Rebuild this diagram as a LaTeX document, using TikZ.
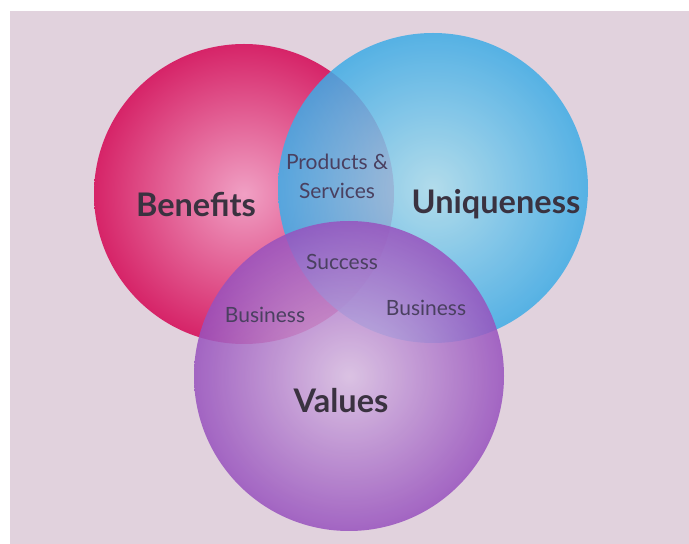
\documentclass[tikz,border=0pt]{standalone}
\usepackage{fontspec}
\setmainfont{Lato}
\usepackage{xcolor}
\usepackage{tikz}
\definecolor{canvas}{RGB}{225,210,221}
\definecolor{benefitedge}{RGB}{214,36,104}
\definecolor{benefitcore}{RGB}{240,160,196}
\definecolor{uniqueedge}{RGB}{62,172,230}
\definecolor{uniquecore}{RGB}{170,222,238}
\definecolor{valueedge}{RGB}{152,82,190}
\definecolor{valuecore}{RGB}{218,192,228}
\definecolor{labeldark}{RGB}{58,50,64}
\definecolor{labelsoft}{RGB}{74,64,96}
\tikzset{
    bubble/.style={circle, minimum size=#1, inner sep=0pt, outer sep=0pt},
    biglabel/.style={font=\fontsize{32.5}{38}\selectfont\bfseries, text=labeldark, anchor=base},
    smalllabel/.style={font=\fontsize{21}{29}\selectfont, text=labelsoft, align=center}
}

\begin{document}
\begin{tikzpicture}[x=1pt, y=1pt]
    % Canvas
    \useasboundingbox (0,0) rectangle (689,544);
    \fill[white] (0,0) rectangle (689,544);
    \fill[canvas] (10,0) rectangle (689,533);

    % Circles
    \node[bubble=300pt, inner color=benefitcore, outer color=benefitedge] (benefits) at (244,350) {};
    \node[bubble=310pt, inner color=uniquecore, outer color=uniqueedge, fill opacity=0.85] (uniqueness) at (433,356) {};
    \node[bubble=310pt, inner color=valuecore, outer color=valueedge, fill opacity=0.85] (values) at (349,168) {};

    % Main labels
    \node[biglabel] (benefitslabel) at (196,327) {Benefits};
    \node[biglabel] (uniquenesslabel) at (496,330) {Uniqueness};
    \node[biglabel] (valueslabel) at (341,131) {Values};

    % Overlap labels
    \node[smalllabel] (productslabel) at (337,368) {Products \&\\ Services};
    \node[smalllabel, anchor=base] (successlabel) at (342,274) {Success};
    \node[smalllabel, anchor=base] (businessleft) at (265,221) {Business};
    \node[smalllabel, anchor=base] (businessright) at (426,228) {Business};
\end{tikzpicture}
\end{document}
